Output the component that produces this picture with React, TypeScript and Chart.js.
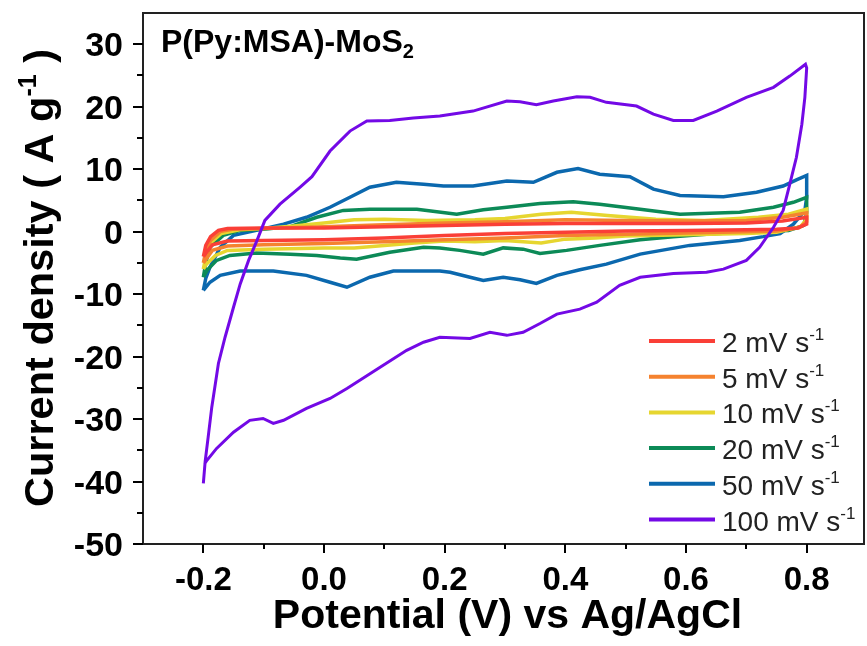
import React, { useEffect, useRef } from 'react';
import { Chart, registerables } from 'chart.js';

Chart.register(...registerables);

const FONT = '"Liberation Sans", Arial, Helvetica, sans-serif';

// Scan rates (mV/s) and colours
const scanRates = ['2', '5', '10', '20', '50', '100'];
const seriesColors = ['#FA3F37', '#F5822F', '#E6D630', '#0C8A57', '#0B68AE', '#7309E6'];

// Each loop: [potential (V), current density (A/g)], anodic sweep then cathodic sweep
const cv2: [number, number][] = [
  [-0.2, -4.0], [-0.196, -2.2], [-0.188, -0.8], [-0.175, 0.2], [-0.16, 0.5], [-0.1, 0.6], [0.0, 0.6],
  [0.1, 0.8], [0.2, 1.0], [0.3, 1.2], [0.4, 1.3], [0.5, 1.3], [0.6, 1.3], [0.7, 1.4], [0.76, 1.7], [0.8, 2.3],
  [0.8, 1.2], [0.785, 0.6], [0.75, 0.4], [0.7, 0.3], [0.6, 0.2], [0.5, 0.1], [0.4, -0.1], [0.3, -0.3],
  [0.2, -0.6], [0.1, -1.0], [0.0, -1.3], [-0.1, -1.4], [-0.16, -1.5], [-0.185, -2.1], [-0.2, -4.0],
];

const cv5: [number, number][] = [
  [-0.2, -5.0], [-0.196, -3.2], [-0.188, -1.4], [-0.172, 0.0], [-0.15, 0.4], [-0.1, 0.5], [0.0, 0.8],
  [0.1, 1.1], [0.2, 1.4], [0.3, 1.6], [0.4, 1.9], [0.5, 1.8], [0.6, 1.7], [0.7, 1.8], [0.76, 2.3], [0.8, 3.0],
  [0.8, 1.6], [0.787, 0.6], [0.75, 0.1], [0.7, 0.0], [0.6, -0.2], [0.5, -0.4], [0.4, -0.6], [0.3, -1.0],
  [0.2, -1.3], [0.1, -1.6], [0.0, -1.9], [-0.1, -2.1], [-0.16, -2.3], [-0.185, -3.0], [-0.2, -5.0],
];

const cv10: [number, number][] = [
  [-0.2, -6.0], [-0.196, -4.0], [-0.188, -1.8], [-0.17, -0.3], [-0.14, 0.3], [-0.1, 0.5], [-0.05, 0.9],
  [0.0, 1.4], [0.05, 1.9], [0.1, 2.0], [0.17, 1.8], [0.25, 1.9], [0.3, 2.1], [0.36, 2.8], [0.41, 3.1],
  [0.47, 2.6], [0.55, 2.0], [0.63, 1.8], [0.72, 2.3], [0.77, 2.8], [0.8, 3.6],
  [0.8, 2.0], [0.79, 0.8], [0.75, -0.1], [0.7, -0.3], [0.6, -0.5], [0.5, -0.7], [0.45, -1.0], [0.4, -1.2],
  [0.36, -1.8], [0.3, -1.4], [0.25, -1.6], [0.2, -1.5], [0.15, -1.8], [0.1, -2.2], [0.05, -2.6], [0.0, -2.6],
  [-0.1, -2.8], [-0.16, -3.0], [-0.18, -3.8], [-0.195, -5.2], [-0.2, -6.0],
];

const cv20: [number, number][] = [
  [-0.2, -7.3], [-0.196, -5.0], [-0.189, -2.5], [-0.167, -0.6], [-0.139, 0.2], [-0.1, 0.4], [-0.056, 0.8],
  [-0.012, 2.3], [0.032, 3.4], [0.076, 3.6], [0.154, 3.6], [0.22, 2.8], [0.264, 3.5], [0.303, 3.9],
  [0.358, 4.5], [0.413, 4.8], [0.457, 4.4], [0.524, 3.6], [0.59, 2.8], [0.689, 3.1], [0.745, 3.9],
  [0.778, 4.7], [0.8, 5.5],
  [0.8, 3.0], [0.795, 1.0], [0.77, 0.2], [0.745, 0.1], [0.689, -0.1], [0.634, -0.4], [0.579, -0.8],
  [0.524, -1.3], [0.457, -2.2], [0.402, -3.0], [0.358, -3.5], [0.33, -2.8], [0.297, -2.6], [0.264, -3.6],
  [0.225, -3.0], [0.192, -2.6], [0.165, -2.5], [0.109, -3.3], [0.054, -4.4], [0.027, -4.2], [-0.012, -3.8],
  [-0.056, -3.6], [-0.112, -3.4], [-0.156, -3.8], [-0.178, -4.6], [-0.194, -6.2], [-0.2, -7.3],
];

const cv50: [number, number][] = [
  [-0.2, -9.4], [-0.196, -7.5], [-0.189, -5.7], [-0.172, -2.5], [-0.15, -0.6], [-0.112, 0.2], [-0.067, 1.2],
  [-0.029, 2.3], [0.01, 3.9], [0.043, 5.5], [0.076, 7.1], [0.12, 7.9], [0.165, 7.6], [0.198, 7.3],
  [0.247, 7.3], [0.303, 8.1], [0.347, 7.9], [0.386, 9.5], [0.421, 10.1], [0.457, 9.2], [0.507, 8.8],
  [0.546, 6.8], [0.59, 5.8], [0.662, 5.6], [0.717, 6.3], [0.761, 7.3], [0.783, 8.3], [0.8, 9.0],
  [0.8, 5.5], [0.797, 3.4], [0.778, 1.2], [0.756, -0.3], [0.728, -0.8], [0.689, -1.4], [0.606, -2.2],
  [0.524, -3.6], [0.468, -5.2], [0.424, -6.1], [0.386, -7.0], [0.352, -8.3], [0.325, -7.7], [0.297, -7.3],
  [0.264, -7.8], [0.242, -7.3], [0.209, -6.5], [0.192, -6.3], [0.115, -6.3], [0.076, -7.3], [0.038, -8.9],
  [0.01, -8.1], [-0.029, -7.0], [-0.084, -6.3], [-0.139, -6.3], [-0.172, -7.0], [-0.189, -8.1], [-0.2, -9.4],
];

const cv100: [number, number][] = [
  [-0.2, -40.3], [-0.197, -36.8], [-0.192, -32.9], [-0.186, -28.1], [-0.175, -21.1], [-0.164, -16.9],
  [-0.15, -12.1], [-0.139, -8.4], [-0.125, -4.6], [-0.111, -1.4], [-0.098, 1.8], [-0.073, 4.4],
  [-0.04, 7.1], [-0.02, 8.8], [0.01, 12.9], [0.043, 16.1], [0.071, 17.7], [0.109, 17.8], [0.148, 18.2],
  [0.192, 18.5], [0.247, 19.3], [0.303, 20.9], [0.325, 20.8], [0.352, 20.3], [0.38, 20.9], [0.419, 21.6],
  [0.441, 21.5], [0.468, 20.7], [0.518, 20.1], [0.546, 18.8], [0.579, 17.8], [0.612, 17.8], [0.651, 19.3],
  [0.7, 21.5], [0.745, 23.1], [0.772, 24.9], [0.798, 26.8],
  [0.8, 26.2], [0.797, 21.5], [0.792, 17.2], [0.783, 11.9], [0.772, 7.6], [0.761, 3.4], [0.745, 0.7],
  [0.722, -2.5], [0.7, -4.6], [0.662, -6.0], [0.634, -6.5], [0.579, -6.7], [0.524, -7.3], [0.49, -8.6],
  [0.452, -11.3], [0.424, -12.4], [0.386, -13.2], [0.358, -14.7], [0.33, -16.1], [0.303, -16.6],
  [0.275, -16.1], [0.242, -17.1], [0.192, -16.9], [0.165, -17.7], [0.137, -19.0], [0.093, -21.7],
  [0.038, -25.1], [0.01, -26.7], [-0.029, -28.3], [-0.067, -30.2], [-0.084, -30.7], [-0.101, -29.9],
  [-0.123, -30.2], [-0.15, -32.1], [-0.178, -34.7], [-0.194, -36.6], [-0.198, -37.2],
];

const loops = [cv2, cv5, cv10, cv20, cv50, cv100];
const drawOrder = [1, 2, 3, 4, 5, 0];
const lineWidths = [3.5, 3.5, 3.5, 3.5, 3.5, 3];

// Axes
const xMin = -0.3;
const xMax = 0.895;
const yMin = -50;
const yMax = 35;
const xMajorTicks = [-0.2, 0.0, 0.2, 0.4, 0.6, 0.8];
const xMinorTicks = [-0.1, 0.1, 0.3, 0.5, 0.7];
const yMajorTicks = [-50, -40, -30, -20, -10, 0, 10, 20, 30];
const yMinorTicks = [-45, -35, -25, -15, -5, 5, 15, 25];

const xTitle = 'Potential (V) vs Ag/AgCl';
const yTitleMain = 'Current density ( A g';
const yTitleSup = '-1';
const yTitleEnd = ' )';
const sampleName = 'P(Py:MSA)-MoS';
const sampleSub = '2';

type Part = { t: string; size: number; dy: number; bold: boolean };

function partsWidth(ctx: CanvasRenderingContext2D, parts: Part[]) {
  let w = 0;
  for (const p of parts) {
    ctx.font = `${p.bold ? 'bold ' : ''}${p.size}px ${FONT}`;
    w += ctx.measureText(p.t).width;
  }
  return w;
}

function drawParts(ctx: CanvasRenderingContext2D, parts: Part[], x: number, y: number) {
  let cx = x;
  for (const p of parts) {
    ctx.font = `${p.bold ? 'bold ' : ''}${p.size}px ${FONT}`;
    ctx.fillText(p.t, cx, y + p.dy);
    cx += ctx.measureText(p.t).width;
  }
}

const decorPlugin = {
  id: 'decor',
  afterDraw(chart: any) {
    const ctx: CanvasRenderingContext2D = chart.ctx;
    const { left, right, top, bottom } = chart.chartArea;
    const xs = chart.scales.x;
    const ys = chart.scales.y;
    ctx.save();

    // frame
    ctx.lineWidth = 2;
    ctx.strokeStyle = '#222';
    ctx.strokeRect(left, top, right - left, bottom - top);

    // ticks
    ctx.strokeStyle = '#000';
    ctx.beginPath();
    for (const v of yMajorTicks) {
      const y = Math.round(ys.getPixelForValue(v));
      ctx.moveTo(left - 10, y);
      ctx.lineTo(left, y);
    }
    for (const v of yMinorTicks) {
      const y = Math.round(ys.getPixelForValue(v));
      ctx.moveTo(left - 6, y);
      ctx.lineTo(left, y);
    }
    for (const v of xMajorTicks) {
      const x = Math.round(xs.getPixelForValue(v));
      ctx.moveTo(x, bottom);
      ctx.lineTo(x, bottom + 9);
    }
    for (const v of xMinorTicks) {
      const x = Math.round(xs.getPixelForValue(v));
      ctx.moveTo(x, bottom);
      ctx.lineTo(x, bottom + 5);
    }
    ctx.stroke();

    // tick labels
    ctx.fillStyle = '#000';
    ctx.textBaseline = 'alphabetic';
    ctx.font = `bold 34px ${FONT}`;
    ctx.textAlign = 'right';
    for (const v of yMajorTicks) {
      const y = ys.getPixelForValue(v);
      ctx.fillText(String(v), left - 20, y + 12);
    }
    ctx.font = `bold 33px ${FONT}`;
    ctx.textAlign = 'center';
    for (const v of xMajorTicks) {
      const x = xs.getPixelForValue(v);
      ctx.fillText(v.toFixed(1), x, bottom + 46);
    }

    // x title
    ctx.font = `bold 41px ${FONT}`;
    ctx.fillText(xTitle, (left + right) / 2 + 4, 628);

    // y title (rotated)
    ctx.textAlign = 'left';
    const yParts: Part[] = [
      { t: yTitleMain, size: 41.5, dy: 0, bold: true },
      { t: yTitleSup, size: 25, dy: -17, bold: true },
      { t: yTitleEnd, size: 41.5, dy: 0, bold: true },
    ];
    const yw = partsWidth(ctx, yParts);
    ctx.save();
    ctx.translate(53, 278);
    ctx.rotate(-Math.PI / 2);
    drawParts(ctx, yParts, -yw / 2, 0);
    ctx.restore();

    // sample name
    drawParts(
      ctx,
      [
        { t: sampleName, size: 32, dy: 0, bold: true },
        { t: sampleSub, size: 20, dy: 6, bold: true },
      ],
      161,
      52,
    );

    // legend
    const legendX = 649;
    const legendY0 = 341;
    const legendStep = 35.7;
    for (let k = 0; k < scanRates.length; k++) {
      const y = legendY0 + k * legendStep;
      ctx.strokeStyle = seriesColors[k];
      ctx.lineWidth = 4;
      ctx.beginPath();
      ctx.moveTo(legendX, y);
      ctx.lineTo(legendX + 66, y);
      ctx.stroke();
      ctx.fillStyle = '#222';
      drawParts(
        ctx,
        [
          { t: `${scanRates[k]} mV s`, size: 28, dy: 0, bold: false },
          { t: '-1', size: 17, dy: -12, bold: false },
        ],
        legendX + 73,
        y + 11,
      );
    }
    ctx.restore();
  },
};

export default function App() {
  const ref = useRef<HTMLCanvasElement>(null);
  useEffect(() => {
    const canvas = ref.current;
    if (!canvas) return;
    const chart = new Chart(canvas, {
      type: 'scatter',
      data: {
        datasets: loops.map((loop, k) => ({
          label: `${scanRates[k]} mV s-1`,
          data: loop.map(([x, y]) => ({ x, y })),
          showLine: true,
          borderColor: seriesColors[k],
          backgroundColor: seriesColors[k],
          borderWidth: lineWidths[k],
          pointRadius: 0,
          fill: false,
          tension: 0,
          order: drawOrder[k],
        })),
      },
      options: {
        responsive: false,
        animation: false,
        events: [],
        layout: { padding: { left: 143, top: 13, right: 3, bottom: 102 } },
        scales: {
          x: { type: 'linear', min: xMin, max: xMax, display: false },
          y: { type: 'linear', min: yMin, max: yMax, display: false },
        },
        plugins: { legend: { display: false }, tooltip: { enabled: false } },
      },
      plugins: [decorPlugin],
    });
    return () => chart.destroy();
  }, []);
  return (
    <div style={{ position: 'absolute', left: 0, top: 0, width: 867, height: 646, background: '#fff' }}>
      <canvas ref={ref} width={867} height={646} style={{ display: 'block' }} />
    </div>
  );
}
